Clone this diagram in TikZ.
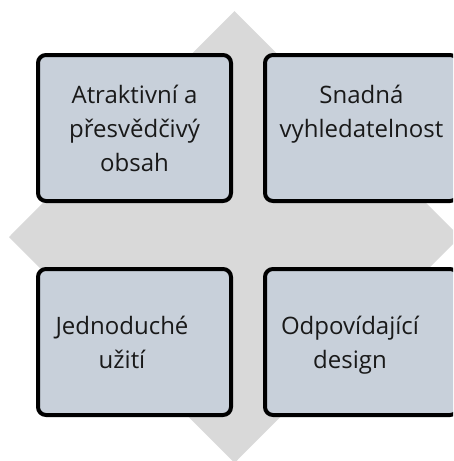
\documentclass[tikz,border=0pt]{standalone}
\usepackage{fontspec}
\setmainfont{Open Sans}
\usepackage{tikz}
\usetikzlibrary{positioning}

\definecolor{diamondgray}{HTML}{D9D9D9}
\definecolor{cardfill}{HTML}{C8D0DA}

\tikzset{
  card/.style={draw=black, line width=4pt, rounded corners=8pt, fill=cardfill,
               minimum width=193pt, minimum height=146pt, inner sep=0pt},
  cardtext/.style={font=\fontsize{24}{34}\selectfont, align=center, inner sep=0pt,
                   text=black!90}
}

\begin{document}
\begin{tikzpicture}[x=1pt, y=-1pt]
\useasboundingbox (0,0) rectangle (453,461);
\clip (0,0) rectangle (453,461);

\fill[diamondgray] (234.5,11) -- (460,237) -- (234.5,463) -- (9,237) -- cycle;

\node[card] (atr) at (134.5,128) {};
\node[card] (sna) at (361.5,128) {};
\node[card] (jed) at (134.5,342) {};
\node[card] (odp) at (361.5,342) {};

\node[cardtext] (atrtext) at (134.5,128) {Atraktivní a\\přesvědčivý\\obsah};
\node[cardtext] (snatext) at (361.5,114) {Snadná\\vyhledatelnost};
\node[cardtext] (jedtext) at (122,342.5) {Jednoduché\\užití};
\node[cardtext] (odptext) at (350,345.5) {Odpovídající\\design};
\end{tikzpicture}
\end{document}
